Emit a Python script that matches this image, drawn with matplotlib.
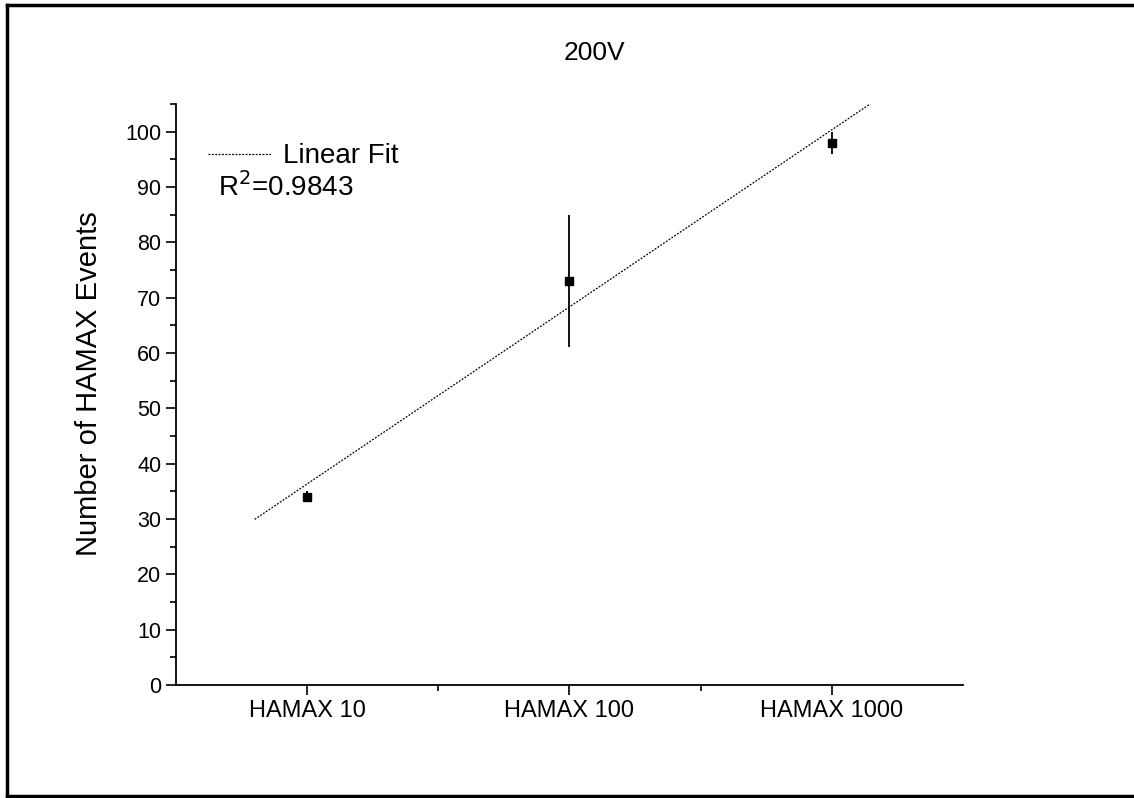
import numpy as np
import matplotlib.pyplot as plt
from matplotlib.lines import Line2D
from matplotlib.ticker import MultipleLocator

plt.rcParams['font.family'] = ['Liberation Sans', 'DejaVu Sans']

# data
categories = ["HAMAX 10", "HAMAX 100", "HAMAX 1000"]
events = [34, 73, 98]
errors = [1, 12, 2]
fit_span = [0.8, 3.15]

x = np.arange(1, len(categories) + 1)
slope, icept = np.polyfit(x, events, 1)
pred = slope * x + icept
r2 = 1 - np.sum((np.array(events) - pred) ** 2) / np.sum((np.array(events) - np.mean(events)) ** 2)

fig = plt.figure(figsize=(11.34, 7.98), dpi=100)
ax = fig.add_axes([0.1552, 0.1416, 0.8492 - 0.1552, 0.8697 - 0.1416])

xf = np.linspace(fit_span[0], fit_span[1], 50)
ax.plot(xf, slope * xf + icept, color="black", lw=0.9, ls=(0, (1.5, 1.2)), label="Linear Fit")
ax.errorbar(x, events, yerr=errors, fmt="s", color="black", ms=5.5, elinewidth=1.3, capsize=0)

ax.set_xlim(0.5, 3.5)
ax.set_ylim(0, 105)
ax.set_xticks(x)
ax.set_xticklabels(categories, fontsize=17)
ax.set_xticks([1.5, 2.5], minor=True)
ax.yaxis.set_major_locator(MultipleLocator(10))
ax.yaxis.set_minor_locator(MultipleLocator(5))
ax.tick_params(axis="y", labelsize=15.5)
ax.tick_params(which="major", length=7, width=1.2, direction="out")
ax.tick_params(which="minor", length=4, width=1.2, direction="out")
ax.spines["top"].set_visible(False)
ax.spines["right"].set_visible(False)
ax.spines["left"].set_linewidth(1.3)
ax.spines["bottom"].set_linewidth(1.3)

ax.set_ylabel("Number of HAMAX Events", fontsize=21, va="center")
ax.yaxis.set_label_coords(-0.111, 0.518)
ax.set_title("200V", fontsize=19, pad=32, x=0.532)

ax.legend(loc="center left", frameon=False, fontsize=20, handlelength=2.3,
          handletextpad=0.4, borderpad=0, borderaxespad=0,
          bbox_to_anchor=(0.041, 0.91))
ax.text(0.053, 0.857, "R$^2$=%.4f" % r2, transform=ax.transAxes, fontsize=20,
        ha="left", va="center")

# outer frame (left, top, bottom edges)
fig.add_artist(Line2D([7 / 1134, 7 / 1134], [1 - 5 / 798, 1 - 796 / 798], color="black", lw=2.5))
fig.add_artist(Line2D([7 / 1134, 1.0], [1 - 5 / 798, 1 - 5 / 798], color="black", lw=2.5))
fig.add_artist(Line2D([7 / 1134, 1.0], [1 - 796 / 798, 1 - 796 / 798], color="black", lw=2.5))

fig.savefig("out.png", dpi=100)
